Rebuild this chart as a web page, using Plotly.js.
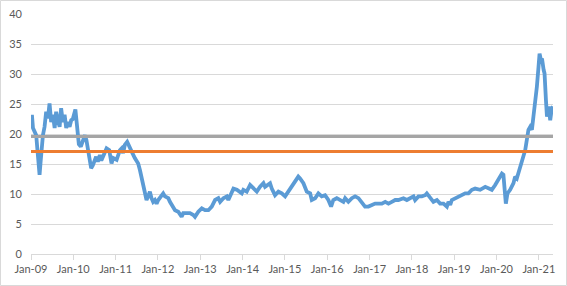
<!DOCTYPE html>
<html>
<head>
<meta charset="utf-8">
<script src="https://cdn.plot.ly/plotly-3.0.1.min.js"></script>
<style>
html,body{margin:0;padding:0;background:#fff;}
#chart{width:567px;height:286px;}
</style>
</head>
<body>
<div id="chart"></div>
<script>
var dates = [
"2009-01-09","2009-01-18","2009-02-01","2009-02-15","2009-02-24","2009-03-08","2009-03-16","2009-03-25","2009-04-05","2009-04-14",
"2009-04-28","2009-05-12","2009-05-27","2009-06-10","2009-06-24","2009-07-09","2009-07-24","2009-08-06","2009-08-21","2009-09-05",
"2009-09-18","2009-10-03","2009-10-18","2009-11-01","2009-11-15","2009-11-30","2009-12-14","2009-12-28","2010-01-19","2010-02-05",
"2010-02-18","2010-03-07","2010-03-25","2010-04-11","2010-04-24","2010-05-07","2010-05-22","2010-06-04","2010-06-19","2010-07-04",
"2010-07-17","2010-08-01","2010-08-18","2010-08-31","2010-09-16","2010-10-15","2010-11-07","2010-11-27","2010-12-11","2011-01-10",
"2011-02-07","2011-02-22","2011-03-07","2011-03-22","2011-04-11","2011-05-04","2011-05-19","2011-06-16","2011-07-15","2011-07-30",
"2011-08-13","2011-08-27","2011-09-11","2011-09-25","2011-10-09","2011-10-24","2011-11-07","2011-11-21","2011-12-06","2011-12-21",
"2012-01-04","2012-02-02","2012-02-16","2012-03-02","2012-03-31","2012-04-14","2012-04-29","2012-05-28","2012-06-25","2012-07-24",
"2012-08-07","2012-09-06","2012-10-04","2012-11-02","2012-11-16","2012-12-15","2013-01-14","2013-02-11","2013-03-12","2013-04-10",
"2013-05-09","2013-06-06","2013-06-21","2013-07-19","2013-08-18","2013-08-31","2013-09-15","2013-10-14","2013-11-12","2013-12-10",
"2013-12-25","2014-01-08","2014-02-06","2014-03-07","2014-04-04","2014-05-04","2014-06-01","2014-06-30","2014-07-14","2014-08-12",
"2014-08-26","2014-09-10","2014-10-08","2014-11-06","2014-12-05","2015-01-03","2015-01-31","2015-03-02","2015-03-30","2015-04-27",
"2015-05-12","2015-06-10","2015-07-09","2015-08-07","2015-08-21","2015-09-19","2015-10-17","2015-11-15","2015-12-14","2016-01-11",
"2016-02-04","2016-02-23","2016-03-24","2016-04-21","2016-05-20","2016-06-04","2016-07-02","2016-08-01","2016-08-29","2016-09-27",
"2016-10-26","2016-11-23","2016-12-22","2017-01-21","2017-02-18","2017-03-19","2017-04-17","2017-05-16","2017-06-13","2017-07-12",
"2017-08-10","2017-09-07","2017-10-20","2017-11-19","2017-12-17","2018-01-15","2018-01-29","2018-02-27","2018-03-28","2018-04-26",
"2018-05-10","2018-06-08","2018-07-06","2018-08-05","2018-09-02","2018-10-01","2018-10-30","2018-11-13","2018-11-28","2018-12-12",
"2019-01-10","2019-02-07","2019-03-08","2019-04-06","2019-05-04","2019-06-03","2019-07-01","2019-08-13","2019-09-26","2019-10-24",
"2019-11-22","2019-12-21","2020-01-18","2020-02-17","2020-03-01","2020-03-10","2020-03-22","2020-04-05","2020-04-28","2020-05-27",
"2020-06-10","2020-06-25","2020-07-24","2020-08-07","2020-08-21","2020-09-05","2020-09-19","2020-10-03","2020-10-18","2020-11-02",
"2020-11-15","2020-11-30","2020-12-15","2020-12-29","2021-01-07","2021-01-19","2021-01-28","2021-02-11","2021-02-19","2021-03-03",
"2021-03-12","2021-03-26","2021-04-09","2021-04-23","2021-05-02"
];
var seriesValues = [
23.2,21.0,20.4,19.8,17.7,15.4,13.2,15.4,18.2,19.8,
21.2,23.7,22.6,25.1,22.0,23.2,21.0,23.7,22.3,21.2,
24.3,22.0,23.2,21.0,22.0,21.2,22.3,22.5,24.1,20.0,
18.3,17.9,18.7,19.8,19.0,17.6,15.7,14.3,14.8,15.7,
16.2,15.4,16.5,15.6,16.2,17.6,17.3,15.1,16.0,15.7,
17.3,17.6,16.8,18.2,18.7,17.9,17.1,16.0,15.1,14.0,
12.6,11.5,10.1,9.0,9.6,10.4,9.3,8.7,9.0,8.4,
9.0,9.8,10.1,9.6,9.3,8.7,8.2,7.3,7.05,6.2,
6.8,6.8,6.8,6.5,6.2,7.05,7.6,7.3,7.3,7.9,
9.0,9.3,8.7,9.3,9.6,9.0,9.8,10.9,10.7,10.4,
10.1,10.7,10.4,11.5,10.9,10.4,11.2,11.8,11.2,11.5,
11.8,10.9,9.8,10.4,10.1,9.6,10.4,11.5,12.3,12.9,
12.6,11.8,10.4,10.1,9.0,9.3,10.1,9.6,9.8,9.0,
7.9,9.0,9.3,9.0,8.7,9.3,8.7,9.3,9.6,9.3,
8.7,7.9,7.9,8.2,8.4,8.4,8.4,8.7,8.4,8.7,
9.0,9.0,9.3,9.0,9.3,9.6,9.0,9.6,9.6,9.8,
10.1,9.3,8.7,9.0,8.4,8.4,7.9,8.7,8.2,9.0,
9.3,9.6,9.8,10.1,10.1,10.7,10.9,10.7,11.2,10.9,
10.7,11.5,12.3,13.4,13.2,10.7,8.4,10.1,10.7,11.8,
12.9,12.6,14.6,15.7,16.8,17.3,19.0,20.7,21.2,20.7,
22.9,25.1,27.9,31.2,33.4,32.3,32.6,30.7,30.1,25.7,
22.9,24.6,22.3,24.3,24.6
];
var lineStartEnd = ["2009-01-01","2021-05-03"];
var orangeLevel = [17.1,17.1];
var grayLevel = [19.6,19.6];
var tickDates = ["2009-01-01","2010-01-01","2011-01-01","2012-01-01","2013-01-01","2014-01-01","2015-01-01","2016-01-01","2017-01-01","2018-01-01","2019-01-01","2020-01-01","2021-01-01"];
var tickLabels = ["Jan-09","Jan-10","Jan-11","Jan-12","Jan-13","Jan-14","Jan-15","Jan-16","Jan-17","Jan-18","Jan-19","Jan-20","Jan-21"];
var yTicks = [0,5,10,15,20,25,30,35,40];

var traces = [
  {x: dates, y: seriesValues, type:'scatter', mode:'lines', line:{color:'#5b9bd5', width:3.8}, hoverinfo:'skip'},
  {x: lineStartEnd, y: orangeLevel, type:'scatter', mode:'lines', line:{color:'#ed7d31', width:3}, hoverinfo:'skip'},
  {x: lineStartEnd, y: grayLevel, type:'scatter', mode:'lines', line:{color:'#a5a5a5', width:3}, hoverinfo:'skip'}
];

var pw = 522, ph = 240;
var layout = {
  width:567, height:286,
  margin:{l:31, r:14, t:14, b:32, pad:0},
  showlegend:false,
  paper_bgcolor:'#ffffff', plot_bgcolor:'#ffffff',
  font:{family:'Lato, "Liberation Sans", Arial, sans-serif', size:11, color:'#595959'},
  xaxis:{
    type:'date', range:lineStartEnd,
    tickvals:tickDates, ticktext:tickLabels,
    showgrid:false, zeroline:false,
    showline:true, linecolor:'#d9d9d9', linewidth:1,
    ticks:'outside', ticklen:5, tickcolor:'#d9d9d9', tickwidth:1,
    tickfont:{size:11, color:'#595959'}
  },
  yaxis:{
    range:[0,40], tickvals:yTicks,
    showgrid:true, gridcolor:'#d9d9d9', gridwidth:1,
    zeroline:false, showline:false, ticks:'',
    ticklabelstandoff:8,
    tickfont:{size:11, color:'#595959'}
  },
  shapes:[{
    type:'rect', xref:'paper', yref:'paper',
    x0:-30.5/pw, x1:(pw+13.5)/pw, y0:-31.5/ph, y1:(ph+13.5)/ph,
    line:{color:'#d9d9d9', width:1}, fillcolor:'rgba(0,0,0,0)', layer:'below'
  }]
};
Plotly.newPlot('chart', traces, layout, {staticPlot:true, displayModeBar:false});
</script>
</body>
</html>
